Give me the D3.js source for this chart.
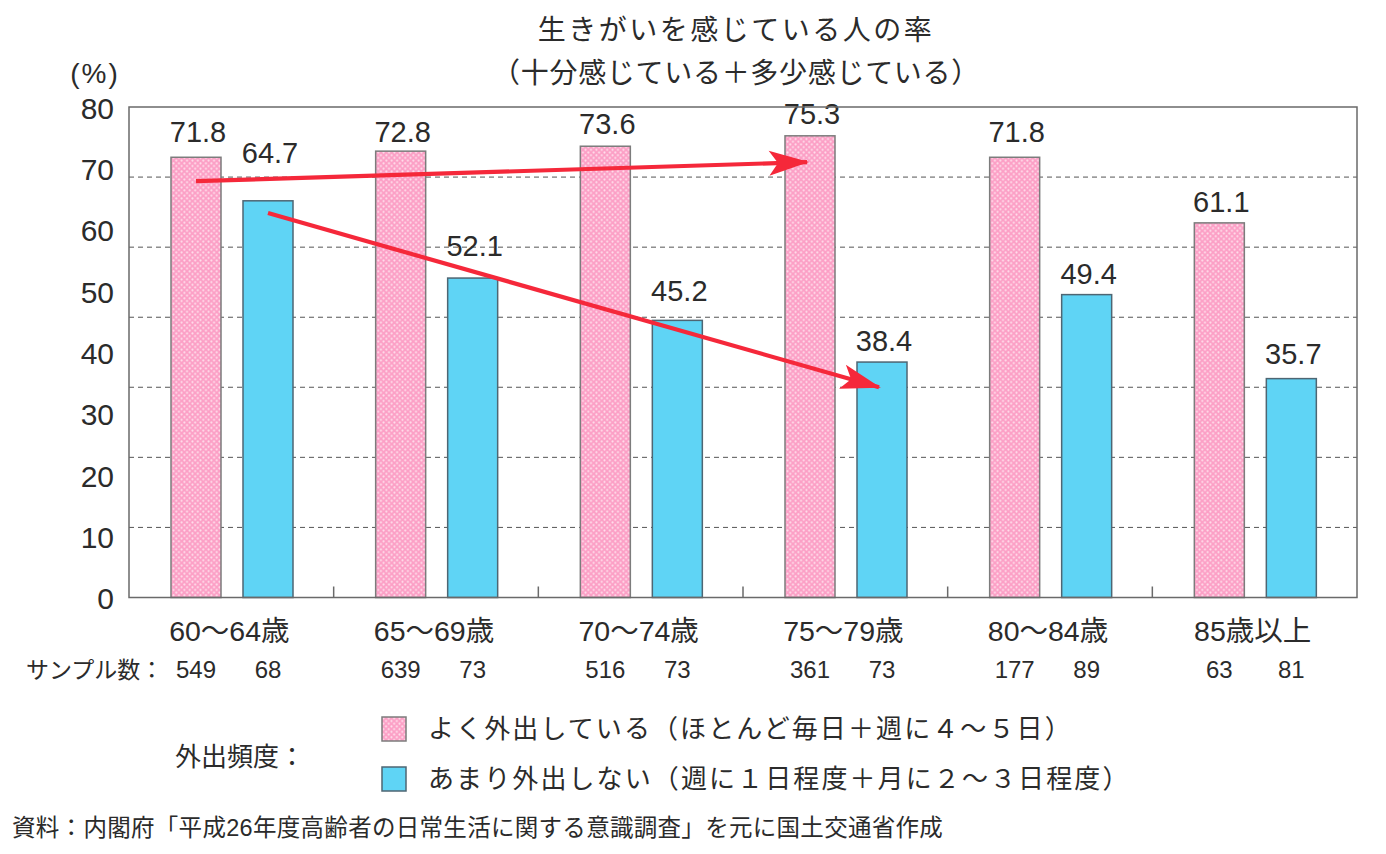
<!DOCTYPE html>
<html><head><meta charset="utf-8">
<script src="https://cdn.jsdelivr.net/npm/d3@7/dist/d3.min.js"></script>
<style>
html,body{margin:0;padding:0;background:#fff;}
svg{display:block;font-family:"Liberation Sans","Noto Sans CJK JP",sans-serif;}
</style></head>
<body>
<svg id="chart" width="1386" height="854"></svg>
<script>
// ---- data ----
const categories = ["60〜64歳","65〜69歳","70〜74歳","75〜79歳","80〜84歳","85歳以上"];
const seriesKeys = ["often","rare"];
const oftenValues = [71.8, 72.8, 73.6, 75.3, 71.8, 61.1];
const rareValues  = [64.7, 52.1, 45.2, 38.4, 49.4, 35.7];
const oftenSamples = [549, 639, 516, 361, 177, 63];
const rareSamples  = [68, 73, 73, 73, 89, 81];
const yTickValues = [0, 10, 20, 30, 40, 50, 60, 70, 80];
const gridValues = [11.43, 22.86, 34.29, 45.71, 57.14, 68.57];
const legendLabels = ["よく外出している（ほとんど毎日＋週に４〜５日）","あまり外出しない（週に１日程度＋月に２〜３日程度）"];
const titleLines = ["生きがいを感じている人の率","（十分感じている＋多少感じている）"];
// arrow annotations: [categoryIndex, series, value] from -> to
const arrowFrom = [[0,"often",67.9],[0,"rare",62.7]];
const arrowTo   = [[3,"often",71.0],[3,"rare",34.3]];

// ---- layout (label gaps in px above bar tops) ----
const labelGap = {often:[15,9,12,12,15,11], rare:[38,22,19,11,11,15]};

const svg = d3.select("#chart");
const plotLeft = 129, plotRight = 1357, plotTop = 107, plotBottom = 597.5;
const x0 = d3.scaleBand().domain(categories).range([plotLeft, plotRight]).padding(0);
const x1 = d3.scaleBand().domain(seriesKeys).range([42, 164]).paddingInner(22/72).paddingOuter(0);
const y = d3.scaleLinear().domain([0, 80]).range([plotBottom, plotTop]);

const textColor = "#2b2b2b";
const pinkBase = "#fca0c6", blueFill = "#5fd4f5";

const defs = svg.append("defs");
const pat = defs.append("pattern").attr("id","dots").attr("patternUnits","userSpaceOnUse")
  .attr("width",5.4).attr("height",5.4);
pat.append("rect").attr("width",5.4).attr("height",5.4).attr("fill",pinkBase);
pat.append("circle").attr("cx",1.35).attr("cy",1.35).attr("r",1.05).attr("fill","#ffe0ec");
pat.append("circle").attr("cx",4.05).attr("cy",4.05).attr("r",1.05).attr("fill","#ffe0ec");

const marker = defs.append("marker").attr("id","arrowhead").attr("markerUnits","userSpaceOnUse")
  .attr("viewBox","-40 -14 44 28").attr("refX",0).attr("refY",0)
  .attr("markerWidth",44).attr("markerHeight",28).attr("orient","auto");
marker.append("path").attr("d","M2,0 L-38,-12.5 L-29,0 L-38,12.5 Z").attr("fill","#f5283a");

// gridlines
svg.append("g").selectAll("line").data(gridValues).join("line")
  .attr("x1", plotLeft).attr("x2", plotRight)
  .attr("y1", d => y(d)).attr("y2", d => y(d))
  .attr("stroke","#555").attr("stroke-width",1).attr("stroke-dasharray","5,4");

// bars
const seriesValues = {often: oftenValues, rare: rareValues};
const fills = {often: "url(#dots)", rare: blueFill};
const strokes = {often: "#7c7c7c", rare: "#4e6673"};
const groups = svg.append("g").selectAll("g").data(categories).join("g")
  .attr("transform", d => `translate(${x0(d)},0)`);
groups.selectAll("rect").data((d,i) => seriesKeys.map(k => ({k, v: seriesValues[k][i], i})))
  .join("rect")
  .attr("x", d => x1(d.k)).attr("width", x1.bandwidth())
  .attr("y", d => y(d.v)).attr("height", d => y(0) - y(d.v))
  .attr("fill", d => fills[d.k]).attr("stroke", d => strokes[d.k]).attr("stroke-width",1.5);
groups.selectAll("text.val").data((d,i) => seriesKeys.map(k => ({k, v: seriesValues[k][i], i})))
  .join("text").attr("class","val")
  .attr("x", d => x1(d.k) + x1.bandwidth()/2 + 2)
  .attr("y", d => y(d.v) - labelGap[d.k][d.i])
  .attr("text-anchor","middle").attr("font-size",29).attr("fill",textColor)
  .text(d => d.v.toFixed(1));

// frame
svg.append("rect").attr("x",plotLeft).attr("y",plotTop).attr("width",plotRight-plotLeft).attr("height",plotBottom-plotTop)
  .attr("fill","none").attr("stroke","#6a6a6a").attr("stroke-width",1.5);

// bottom axis ticks between groups
svg.append("g").selectAll("line").data(categories.slice(1)).join("line")
  .attr("x1", d => x0(d)).attr("x2", d => x0(d))
  .attr("y1", plotBottom).attr("y2", plotBottom - 11)
  .attr("stroke","#6a6a6a").attr("stroke-width",1.5);

// y tick labels
svg.append("g").selectAll("text").data(yTickValues).join("text")
  .attr("x", 114).attr("y", d => y(d) + 1).attr("dy","0.36em")
  .attr("text-anchor","end").attr("font-size",30).attr("fill",textColor)
  .text(d => d);

svg.append("text").attr("x",95).attr("y",73).attr("dy","0.36em").attr("text-anchor","middle")
  .attr("font-size",28).attr("fill",textColor).attr("letter-spacing",2).text("(%)");

// category labels
svg.append("g").selectAll("text").data(categories).join("text")
  .attr("x", d => x0(d) + x0.bandwidth()/2 - 2).attr("y", 641)
  .attr("text-anchor","middle").attr("font-size",28.5).attr("fill",textColor)
  .text(d => d);

// sample numbers
svg.append("text").attr("x",26).attr("y",678).attr("font-size",23).attr("fill",textColor)
  .text("サンプル数：");
const sampleData = [];
categories.forEach((c,i) => {
  sampleData.push({c, k:"often", n: oftenSamples[i]});
  sampleData.push({c, k:"rare", n: rareSamples[i]});
});
svg.append("g").selectAll("text").data(sampleData).join("text")
  .attr("x", d => x0(d.c) + x1(d.k) + x1.bandwidth()/2)
  .attr("y", 678).attr("text-anchor","middle").attr("font-size",24).attr("fill",textColor)
  .text(d => d.n);

// arrows
const arrowPoint = (a) => ({x: x0(categories[a[0]]) + x1(a[1]) + x1.bandwidth()/2 - 3, y: y(a[2])});
svg.append("g").selectAll("line").data(arrowFrom.map((f,i) => [arrowPoint(f), arrowPoint(arrowTo[i])]))
  .join("line")
  .attr("x1", d => d[0].x + 3).attr("y1", d => d[0].y)
  .attr("x2", d => d[1].x).attr("y2", d => d[1].y)
  .attr("stroke","#f5283a").attr("stroke-width",4.2).attr("marker-end","url(#arrowhead)");

// title
svg.append("g").selectAll("text").data(titleLines).join("text")
  .attr("x", 736).attr("y", (d,i) => 30 + i*43).attr("dominant-baseline","central")
  .attr("text-anchor","middle").attr("font-size",28).attr("fill",textColor)
  .attr("letter-spacing",(d,i) => i === 0 ? 2.5 : 0.7)
  .text(d => d);

// legend
svg.append("text").attr("x",175).attr("y",757).attr("dominant-baseline","central")
  .attr("font-size",26).attr("fill",textColor).text("外出頻度：");
const legendFills = [ "url(#dots)", blueFill ];
const legendG = svg.append("g").selectAll("g").data(legendLabels).join("g")
  .attr("transform",(d,i) => `translate(382,${717 + i*50})`);
legendG.append("rect").attr("width",24).attr("height",24)
  .attr("fill",(d,i) => legendFills[i]).attr("stroke",(d,i) => strokes[seriesKeys[i]]).attr("stroke-width",1.5);
legendG.append("text").attr("x",46).attr("y",12).attr("dominant-baseline","central")
  .attr("font-size",26).attr("letter-spacing",2.1).attr("fill",textColor).text(d => d);

// source
svg.append("text").attr("x",12).attr("y",828).attr("dominant-baseline","central")
  .attr("font-size",23.5).attr("letter-spacing",0.3).attr("fill",textColor)
  .text("資料：内閣府「平成26年度高齢者の日常生活に関する意識調査」を元に国土交通省作成");
</script>
</body></html>
